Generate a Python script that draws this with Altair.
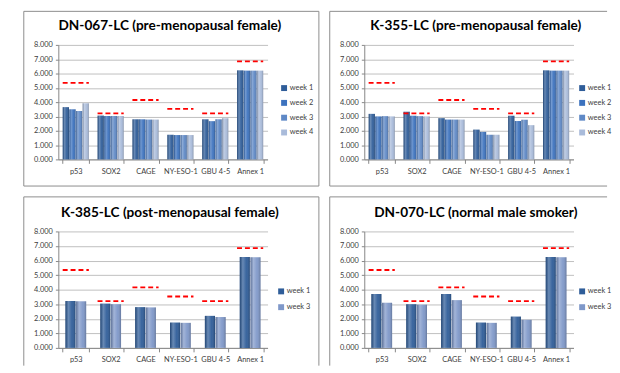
import altair as alt
import pandas as pd

categories = ["p53", "SOX2", "CAGE", "NY-ESO-1", "GBU 4-5", "Annex 1"]
thresholds = [5.35, 3.22, 4.15, 3.53, 3.22, 6.85]
y_ticks = [0, 1, 2, 3, 4, 5, 6, 7, 8]

weeks_4 = ["week 1", "week 2", "week 3", "week 4"]
weeks_2 = ["week 1", "week 3"]

titles = [
    "DN-067-LC (pre-menopausal female)",
    "K-355-LC (pre-menopausal female)",
    "K-385-LC (post-menopausal female)",
    "DN-070-LC (normal male smoker)",
]

dn067_w1 = [3.65, 3.06, 2.80, 1.72, 2.80, 6.22]
dn067_w2 = [3.50, 3.03, 2.80, 1.70, 2.67, 6.20]
dn067_w3 = [3.38, 3.03, 2.78, 1.70, 2.80, 6.20]
dn067_w4 = [3.92, 3.03, 2.78, 1.70, 2.87, 6.20]

k355_w1 = [3.18, 3.33, 2.88, 2.08, 3.05, 6.22]
k355_w2 = [3.00, 3.05, 2.78, 1.92, 2.68, 6.20]
k355_w3 = [3.02, 3.02, 2.78, 1.72, 2.77, 6.20]
k355_w4 = [3.00, 3.00, 2.78, 1.72, 2.39, 6.20]

k385_w1 = [3.22, 3.04, 2.80, 1.74, 2.20, 6.24]
k385_w3 = [3.20, 3.00, 2.78, 1.72, 2.12, 6.22]

dn070_w1 = [3.70, 3.00, 3.70, 1.74, 2.15, 6.24]
dn070_w3 = [3.10, 2.97, 3.28, 1.72, 1.93, 6.22]

colors_4 = ["#2F5D99", "#3C72BE", "#5F89C6", "#A9BBDA"]
colors_2 = ["#2F5D99", "#7F98C9"]

W = 212
FONT = "Lato"

shade = alt.LinearGradient(
    gradient="linear", x1=0, y1=0, x2=1, y2=0,
    stops=[
        alt.GradientStop(color="rgba(0,0,0,0.22)", offset=0),
        alt.GradientStop(color="rgba(255,255,255,0.28)", offset=0.3),
        alt.GradientStop(color="rgba(255,255,255,0.05)", offset=0.65),
        alt.GradientStop(color="rgba(0,0,0,0.22)", offset=1),
    ],
)

x_axis = alt.Axis(labelAngle=0, tickBand="extent", tickSize=4,
                  labelFontSize=7.5, labelColor="#404040", labelFont=FONT,
                  labelPadding=4, domainColor="#868686",
                  tickColor="#868686", grid=False, title=None)
y_axis = alt.Axis(values=y_ticks, format=".3f", grid=True,
                  labelOverlap=False, title=None,
                  gridColor="#BFBFBF", domainColor="#868686",
                  tickColor="#868686", tickSize=3, labelFontSize=7.5,
                  labelColor="#404040", labelFont=FONT, labelPadding=3)
x_scale = alt.Scale(paddingInner=0.25, paddingOuter=0.125)
y_scale = alt.Scale(domain=[0, 8], nice=False)


def panel(title, weeks, series, colors, H, legend_x, legend_y, row_pad,
          off_outer, frame_lines, bound):
    rows = []
    for w, vals in zip(weeks, series):
        for c, v in zip(categories, vals):
            rows.append({"cat": c, "week": w, "value": v})
    df = pd.DataFrame(rows)
    thr = pd.DataFrame({"cat": categories, "value": thresholds})
    one = pd.DataFrame({"t": [title]})

    x = alt.X("cat:N", sort=categories, title=None, scale=x_scale, axis=x_axis)
    y = alt.Y("value:Q", title=None, scale=y_scale, axis=y_axis)
    xo_scale = alt.Scale(paddingInner=0.05, paddingOuter=off_outer)
    xo = alt.XOffset("week:N", sort=weeks, scale=xo_scale)

    bars = alt.Chart(df).mark_bar().encode(
        x=x, y=y, xOffset=xo,
        color=alt.Color(
            "week:N", sort=weeks,
            scale=alt.Scale(domain=weeks, range=colors),
            legend=alt.Legend(title=None, orient="none", legendX=legend_x,
                              legendY=legend_y, symbolType="square",
                              symbolSize=36, symbolStrokeWidth=0,
                              labelFontSize=7.5, labelFont=FONT,
                              labelColor="#404040", rowPadding=row_pad,
                              labelOffset=2),
        ),
    )
    gloss = alt.Chart(df).mark_bar(color=shade).encode(x=x, y=y, xOffset=xo)

    dash = alt.Chart(thr).mark_rule(
        color="#FF0000", strokeDash=[5, 3], strokeWidth=1.8
    ).encode(
        x=alt.X("cat:N", sort=categories, bandPosition=0, title=None,
                scale=x_scale, axis=x_axis),
        x2=alt.X2("cat:N", bandPosition=1),
        y=y,
    )

    ttl = alt.Chart(one).mark_text(
        font=FONT, fontSize=13.8, fontWeight="bold", color="#000000",
        align="center", baseline="alphabetic",
    ).encode(text="t:N", x=alt.value(113), y=alt.value(-15))

    bx0, bx1, by0, by1 = bound
    box = alt.Chart(one).mark_rect(opacity=0).encode(
        x=alt.value(bx0), x2=alt.value(bx1), y=alt.value(by0), y2=alt.value(by1))

    layers = [box]
    for (a, b, c, d) in frame_lines:
        layers.append(
            alt.Chart(one).mark_rule(color="#8C8C8C", strokeWidth=1).encode(
                x=alt.value(a), x2=alt.value(b), y=alt.value(c), y2=alt.value(d)))
    layers += [bars, gloss, dash, ttl]
    return alt.layer(*layers).properties(width=W, height=H)


H1 = 116
T1 = -34
p1 = panel(titles[0], weeks_4, [dn067_w1, dn067_w2, dn067_w3, dn067_w4],
           colors_4, H1, 225, 40, 6, 0.0,
           [(-35, 264, T1, T1), (-35, 264, H1 + 27, H1 + 27),
            (-35, -35, T1, H1 + 27), (264, 264, T1, H1 + 27)],
           (-35, 264, T1, H1 + 27))
p2 = panel(titles[1], weeks_4, [k355_w1, k355_w2, k355_w3, k355_w4],
           colors_4, H1, 217, 40, 6, 0.0,
           [(-35, 246, T1, T1), (-35, 246, H1 + 27, H1 + 27),
            (-35, -35, T1, H1 + 27)],
           (-35, 246, T1, H1 + 27))

H2 = 118
T2 = -35
p3 = panel(titles[2], weeks_2, [k385_w1, k385_w3], colors_2, H2, 222, 57, 7,
           0.25,
           [(-35, 264, T2, T2), (-35, -35, T2, H2 + 18),
            (264, 264, T2, H2 + 18)],
           (-35, 264, T2, H2 + 18))
p4 = panel(titles[3], weeks_2, [dn070_w1, dn070_w3], colors_2, H2, 217, 57, 7,
           0.25,
           [(-35, 246, T2, T2), (-35, -35, T2, H2 + 18)],
           (-35, 246, T2, H2 + 18))

indep = dict(color="independent", xOffset="independent", x="independent",
             y="independent")
top = alt.hconcat(p1, p2, spacing=9).resolve_scale(**indep)
bottom = alt.hconcat(p3, p4, spacing=9).resolve_scale(**indep)

chart = alt.vconcat(top, bottom, spacing=9).resolve_scale(**indep).properties(
    padding={"left": 15, "top": 0, "right": 0, "bottom": 0},
    background="#FFFFFF",
).configure_view(stroke=None)

chart.save("out.html", embed_options={"renderer": "svg", "actions": False})
